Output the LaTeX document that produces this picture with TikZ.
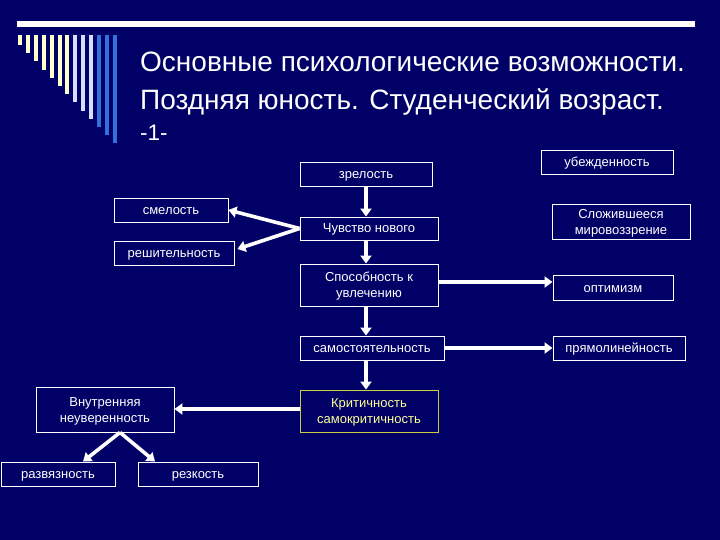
\documentclass[tikz,border=0pt]{standalone}
\usepackage{fontspec}
\setmainfont{Liberation Sans}
\usetikzlibrary{arrows.meta}
\definecolor{bg}{HTML}{000066}
\definecolor{cream}{HTML}{FFFFCC}
\definecolor{lav}{HTML}{D6DDFF}
\definecolor{barblue}{HTML}{3372DC}
\definecolor{ktext}{HTML}{FFFF99}
\definecolor{kborder}{HTML}{CCCC44}
\newcommand{\st}{\rule[-2.8pt]{0pt}{14.6pt}}
\tikzset{
  box/.style={draw=white, line width=0.9pt, text=white, font=\fontsize{13}{16}\selectfont,
    align=center, inner sep=0pt},
  arr/.style={draw=white, line width=3.6pt, -{Triangle[width=11pt,length=8pt]}},
  ttl/.style={text=white, anchor=base west, inner sep=0pt}
}
\begin{document}
\begin{tikzpicture}[x=1pt,y=-1pt]
\fill[bg] (0,0) rectangle (720,540);
\useasboundingbox (0,0) rectangle (720,540);
% decoration
\fill[white] (17,21) rectangle (695,27);
\foreach \i in {0,...,12}{
  \pgfmathsetmacro{\xx}{18+7.9*\i}
  \pgfmathsetmacro{\yy}{45+8.2*\i}
  \ifnum\i<7 \def\cc{cream}\else\ifnum\i<10 \def\cc{lav}\else\def\cc{barblue}\fi\fi
  \fill[\cc] (\xx,35) rectangle ({\xx+4},\yy);
}
% title
\node[ttl, font=\fontsize{28}{34}\selectfont] (t1) at (140,72) {Основные психологические возможности.};
\node[ttl, font=\fontsize{28}{34}\selectfont] (t2) at (140,110) {Поздняя юность. Студенческий возраст.};
\node[ttl, font=\fontsize{22.5}{27}\selectfont] (t3) at (140,141) {-1-};
% boxes
\node[box, minimum width=132pt, minimum height=24pt] (zr) at (366,174) {\st зрелость};
\node[box, minimum width=138pt, minimum height=23pt] (ch) at (369,228.5) {\st Чувство нового};
\node[box, minimum width=114pt, minimum height=24pt] (sm) at (171,210) {\st смелость};
\node[box, minimum width=120pt, minimum height=24pt] (re) at (174,253) {\st решительность};
\node[box, minimum width=138pt, minimum height=42pt] (sp) at (369,285) {\st Способность к\\\st увлечению};
\node[box, minimum width=120pt, minimum height=25pt] (op) at (613,287.5) {\st оптимизм};
\node[box, minimum width=144pt, minimum height=24pt] (sa) at (372,348) {\st самостоятельность};
\node[box, minimum width=132pt, minimum height=24pt] (pr) at (619,348) {\st прямолинейность};
\node[box, draw=kborder, text=ktext, minimum width=138pt, minimum height=42pt] (kr) at (369,411) {\st Критичность\\\st самокритичность};
\node[box, minimum width=132pt, minimum height=24pt] (ub) at (607,162) {\st убежденность};
\node[box, minimum width=138pt, minimum height=35pt] (sl) at (621,221.5) {\st Сложившееся\\\st мировоззрение};
\node[box, minimum width=138pt, minimum height=45pt] (vn) at (105,409.5) {\st Внутренняя\\\st неуверенность};
\node[box, minimum width=114pt, minimum height=24pt] (rz) at (58,474) {\st развязность};
\node[box, minimum width=120pt, minimum height=24pt] (rk) at (198,474) {\st резкость};
% connectors
\draw[arr] (zr.south) -- (zr.south |- ch.north);
\draw[arr] (ch.west) -- (sm.east);
\draw[arr] (ch.west) -- ([xshift=3pt,yshift=4pt]re.east);
\draw[arr] (zr.south |- ch.south) -- (zr.south |- sp.north);
\draw[arr] ([yshift=3pt]sp.east) -- ([yshift=3pt]sp.east -| op.west);
\draw[arr] (zr.south |- sp.south) -- (zr.south |- sa.north);
\draw[arr] (sa.east) -- (pr.west);
\draw[arr] (zr.south |- sa.south) -- (zr.south |- kr.north);
\draw[arr] ([yshift=2pt]kr.west) -- ([yshift=2pt]kr.west -| vn.east);
\coordinate (v) at ([xshift=15pt]vn.south);
\draw[arr] (v) -- ([xshift=25pt]rz.north);
\draw[arr] (v) -- ([xshift=-43pt]rk.north);
\end{tikzpicture}
\end{document}
